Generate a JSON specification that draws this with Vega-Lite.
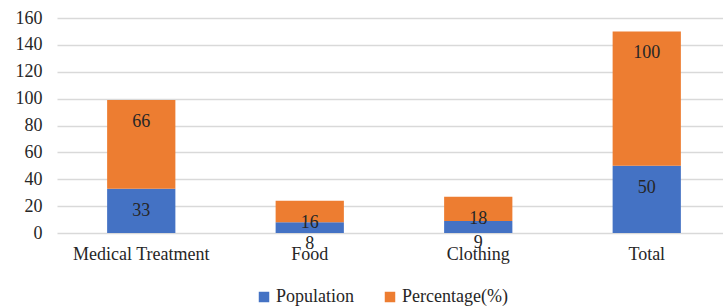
{
  "$schema": "https://vega.github.io/schema/vega-lite/v6.json",
  "width": 674,
  "height": 215,
  "autosize": "none",
  "padding": {"left": 57, "top": 18, "right": 0, "bottom": 74},
  "background": "white",
  "config": {
    "font": "Liberation Serif",
    "view": {"stroke": null},
    "axis": {"labelFont": "Liberation Serif"},
    "legend": {"labelFont": "Liberation Serif"},
    "text": {"font": "Liberation Serif"}
  },
  "data": {
    "values": [
      {"category": "Medical Treatment", "series": "Population", "value": 33},
      {"category": "Medical Treatment", "series": "Percentage(%)", "value": 66},
      {"category": "Food", "series": "Population", "value": 8},
      {"category": "Food", "series": "Percentage(%)", "value": 16},
      {"category": "Clothing", "series": "Population", "value": 9},
      {"category": "Clothing", "series": "Percentage(%)", "value": 18},
      {"category": "Total", "series": "Population", "value": 50},
      {"category": "Total", "series": "Percentage(%)", "value": 100}
    ]
  },
  "encoding": {
    "x": {
      "field": "category",
      "type": "nominal",
      "sort": ["Medical Treatment", "Food", "Clothing", "Total"],
      "scale": {"paddingInner": 0, "paddingOuter": 0},
      "axis": {
        "title": null,
        "labelAngle": 0,
        "labelFont": "Liberation Serif",
        "labelFontSize": 18,
        "labelColor": "#262626",
        "labelPadding": 12,
        "ticks": false,
        "domain": false,
        "grid": false
      }
    },
    "y": {
      "field": "value",
      "type": "quantitative",
      "stack": "zero",
      "scale": {"domain": [0, 160], "nice": false},
      "axis": {
        "title": null,
        "values": [0, 20, 40, 60, 80, 100, 120, 140, 160],
        "labelFont": "Liberation Serif",
        "labelFontSize": 18,
        "labelColor": "#262626",
        "labelPadding": 15,
        "ticks": false,
        "domain": false,
        "gridColor": "#d9d9d9",
        "gridWidth": 1.3
      }
    },
    "order": {"field": "series", "sort": "descending"}
  },
  "layer": [
    {
      "mark": {"type": "bar", "width": {"band": 0.405}},
      "encoding": {
        "color": {
          "field": "series",
          "type": "nominal",
          "scale": {"domain": ["Population", "Percentage(%)"], "range": ["#4472C4", "#ED7D31"]},
          "legend": {
            "title": null,
            "orient": "none",
            "direction": "horizontal",
            "legendX": 198,
            "legendY": 270,
            "symbolType": "square",
            "symbolSize": 110,
            "symbolStrokeWidth": 0,
            "labelFont": "Liberation Serif",
            "labelFontSize": 18,
            "labelColor": "#262626",
            "columnPadding": 26,
            "labelOffset": 3
          }
        }
      }
    },
    {
      "mark": {"type": "text", "dy": 22, "fontSize": 18, "font": "Liberation Serif", "color": "#262626", "baseline": "middle"},
      "encoding": {
        "detail": {"field": "series", "type": "nominal"},
        "text": {"field": "value", "type": "quantitative"}
      }
    }
  ]
}
